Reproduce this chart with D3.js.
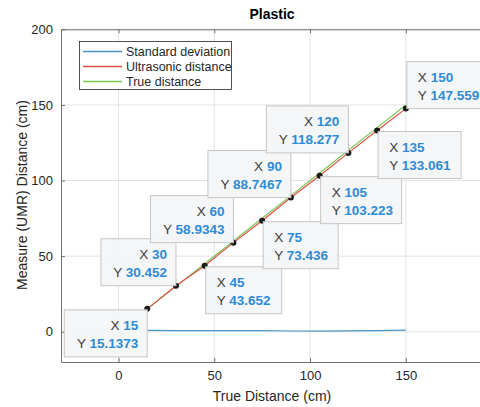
<!DOCTYPE html>
<html>
<head>
<meta charset="utf-8">
<script src="https://cdn.jsdelivr.net/npm/d3@7"></script>
<style>
  body { margin: 0; background: #fff; }
  text { font-family: "Liberation Sans", Arial, sans-serif; }
</style>
</head>
<body>
<svg width="480" height="407"></svg>
<script>
const trueDist = [15, 30, 45, 60, 75, 90, 105, 120, 135, 150];
const ultrasonic = [15.1373, 30.452, 43.652, 58.9343, 73.436, 88.7467, 103.223, 118.277, 133.061, 147.559];
const stdDev = [0.9, 0.8, 0.7, 0.8, 0.7, 0.5, 0.4, 0.6, 0.8, 1.1];
const tipLabels = ["15.1373", "30.452", "43.652", "58.9343", "73.436", "88.7467", "103.223", "118.277", "133.061", "147.559"];
// which corner of the data tip sits on the point
const tipSide = ["bl", "tl", "br", "tl", "br", "tl", "br", "tl", "br", "tr"];
const xTicks = [0, 50, 100, 150];
const yTicks = [0, 50, 100, 150, 200];

const svg = d3.select("svg");
const x = d3.scaleLinear().domain([-30, 190]).range([61, 482.5]);
const y = d3.scaleLinear().domain([-20, 200]).range([362, 29.3]);

const axisColor = "#262626";

// grid
const grid = svg.append("g");
grid.selectAll(".gx").data(xTicks).join("line")
  .attr("x1", d => x(d)).attr("x2", d => x(d))
  .attr("y1", y(-20)).attr("y2", y(200))
  .attr("stroke", "#e3e3e3").attr("stroke-width", 1);
grid.selectAll(".gy").data(yTicks).join("line")
  .attr("y1", d => y(d)).attr("y2", d => y(d))
  .attr("x1", x(-30)).attr("x2", x(190))
  .attr("stroke", "#e3e3e3").attr("stroke-width", 1);

// axes box
const xAxis = svg.append("g").attr("transform", `translate(0,${y(-20)})`)
  .call(d3.axisBottom(x).tickValues(xTicks).tickSizeInner(-4).tickSizeOuter(0).tickPadding(9));
const xAxisTop = svg.append("g").attr("transform", `translate(0,${y(200)})`)
  .call(d3.axisTop(x).tickValues(xTicks).tickSizeInner(-4).tickSizeOuter(0).tickFormat(""));
const yAxis = svg.append("g").attr("transform", `translate(${x(-30)},0)`)
  .call(d3.axisLeft(y).tickValues(yTicks).tickSizeInner(-4).tickSizeOuter(0).tickPadding(8));

[xAxis, xAxisTop, yAxis].forEach(a => {
  a.select(".domain").attr("stroke", "#707070").attr("stroke-width", 1);
  a.selectAll(".tick line").attr("stroke", "#707070");
  a.selectAll(".tick text").attr("fill", axisColor).style("font-size", "13px");
});

// labels
svg.append("text").attr("x", 272).attr("y", 19).attr("text-anchor", "middle")
  .style("font-size", "14px").style("font-weight", "bold").attr("fill", "#000").text("Plastic");
svg.append("text").attr("x", 272).attr("y", 401).attr("text-anchor", "middle")
  .style("font-size", "14px").attr("fill", axisColor).text("True Distance (cm)");
svg.append("text").attr("transform", "rotate(-90)").attr("x", -195).attr("y", 27)
  .attr("text-anchor", "middle").style("font-size", "14px").attr("fill", axisColor)
  .text("Measure (UMR) Distance (cm)");

// lines
const mk = vals => d3.line().x((d, i) => x(trueDist[i])).y(d => y(d))(vals);
svg.append("path").attr("d", mk(stdDev)).attr("fill", "none").attr("stroke", "#4a94cc").attr("stroke-width", 1.2);
svg.append("path").attr("d", mk(trueDist)).attr("fill", "none").attr("stroke", "#7dc653").attr("stroke-width", 1.2);
svg.append("path").attr("d", mk(ultrasonic)).attr("fill", "none").attr("stroke", "#e0504a").attr("stroke-width", 1.2);

// data points
svg.selectAll(".pt").data(ultrasonic).join("circle")
  .attr("cx", (d, i) => x(trueDist[i])).attr("cy", d => y(d)).attr("r", 3)
  .attr("fill", "#1a1a1a");

// data tips
const boxW = [83, 75, 76, 83, 75, 83, 81, 82, 83, 82];
const boxH = 47;
trueDist.forEach((t, i) => {
  const px = x(t), py = y(ultrasonic[i]);
  const side = tipSide[i];
  const w = boxW[i];
  const bx = side[1] === "l" ? px - w : px + 1;
  const by = side[0] === "t" ? py - boxH : py + 1;
  const g = svg.append("g");
  g.append("rect").attr("x", bx).attr("y", by).attr("width", w).attr("height", boxH)
    .attr("fill", "#f4f5f8").attr("stroke", "#c6c6c6").attr("stroke-width", 1)
    .attr("fill-opacity", 0.95);
  const rows = [["X", String(t)], ["Y", tipLabels[i]]];
  rows.forEach((r, j) => {
    const ty = by + 20 + j * 18;
    const tx = side[1] === "l" ? bx + w - 9 : bx + 11;
    const txt = g.append("text").attr("y", ty).style("font-size", "13.5px")
      .attr("text-anchor", side[1] === "l" ? "end" : "start");
    txt.attr("x", tx);
    txt.append("tspan").attr("fill", "#3c3c3c").text(r[0] + "  ");
    txt.append("tspan").attr("fill", "#2e8bd6").style("font-weight", "bold").text(r[1]);
  });
});

// legend
const legend = svg.append("g");
legend.append("rect").attr("x", 79.5).attr("y", 41.5).attr("width", 152).attr("height", 48)
  .attr("fill", "#fff").attr("stroke", "#262626").attr("stroke-width", 0.8);
const legNames = ["Standard deviation", "Ultrasonic distance", "True distance"];
const legColors = ["#4a94cc", "#e0504a", "#7dc653"];
legNames.forEach((n, i) => {
  const ly = 51.5 + i * 15;
  legend.append("line").attr("x1", 83).attr("x2", 122).attr("y1", ly).attr("y2", ly)
    .attr("stroke", legColors[i]).attr("stroke-width", 1.5);
  legend.append("text").attr("x", 126).attr("y", ly + 4.5).style("font-size", "12.5px")
    .attr("fill", axisColor).text(n);
});
</script>
</body>
</html>
